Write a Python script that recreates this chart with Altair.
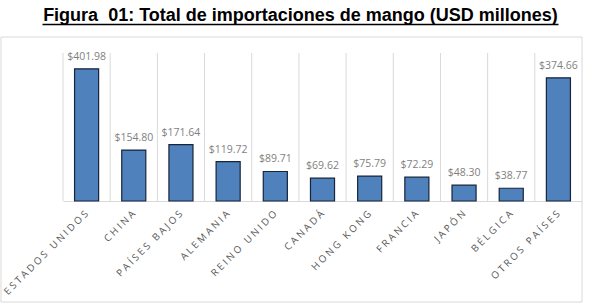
import altair as alt
import pandas as pd

countries = ["ESTADOS UNIDOS", "CHINA", "PAÍSES BAJOS", "ALEMANIA", "REINO UNIDO",
             "CANADÁ", "HONG KONG", "FRANCIA", "JAPÓN", "BÉLGICA", "OTROS PAÍSES"]
values = [401.98, 154.80, 171.64, 119.72, 89.71, 69.62, 75.79, 72.29, 48.30, 38.77, 374.66]
title_text = "Figura\u00a0 01: Total de importaciones de mango (USD millones)"

df = pd.DataFrame({"pais": countries, "valor": values})
one = pd.DataFrame({"k": [0]})

W, H = 519, 148
GAP = "\u2005"

x_enc = alt.X("pais:N", sort=None, title=None,
              scale=alt.Scale(paddingInner=0, paddingOuter=0),
              axis=alt.Axis(labelAngle=-45, labelAlign="right", labelBaseline="middle",
                            labelPadding=11, labelFont="Open Sans", labelFontSize=9.8,
                            labelColor="#595959", ticks=False, domainColor="#d9d9d9",
                            domainWidth=1, grid=False, labelBound=False, labelOverlap=False,
                            labelExpr=f"join(split(datum.label, ''), '{GAP}')"))
y_enc = alt.Y("valor:Q", scale=alt.Scale(domain=[0, 450], nice=False), axis=None)

base = alt.Chart(df)

grid = base.mark_rule(color="#d9d9d9", strokeWidth=1).encode(
    x=alt.X("pais:N", sort=None, bandPosition=0),
    y=alt.value(0), y2=alt.value(H))

bars = base.mark_bar(width=alt.RelativeBandSize(0.51), color="#4f81bd",
                     stroke="#17243a", strokeWidth=1.2).encode(x=x_enc, y=y_enc)

labels = base.mark_text(dy=-9, baseline="alphabetic", font="Open Sans", fontSize=10.5,
                        color="#7f7f7f").encode(
    x=alt.X("pais:N", sort=None), y="valor:Q", text=alt.Text("valor:Q", format="$.2f"))

frame = alt.Chart(one).mark_rect(filled=False, stroke="#d9d9d9", strokeWidth=1).encode(
    x=alt.value(-62), x2=alt.value(519), y=alt.value(-16), y2=alt.value(249))

title = alt.Chart(one).mark_text(font="Liberation Sans", fontWeight="bold", fontSize=18,
                                 align="center", baseline="alphabetic", color="#000000").encode(
    x=alt.value(237.5), y=alt.value(-32), text=alt.datum(title_text))

underline = alt.Chart(one).mark_rule(color="#000000", strokeWidth=1.5).encode(
    x=alt.value(-20.5), x2=alt.value(495.5), y=alt.value(-28.5))

chart = alt.layer(frame, grid, bars, labels, title, underline).properties(
    width=W, height=H,
    autosize=alt.AutoSizeParams(type="none"),
    padding={"left": 63, "top": 53, "right": 7, "bottom": 103},
    background="white",
).configure_view(stroke=None)

chart.save("out.html", embed_options={"renderer": "svg", "actions": False})
